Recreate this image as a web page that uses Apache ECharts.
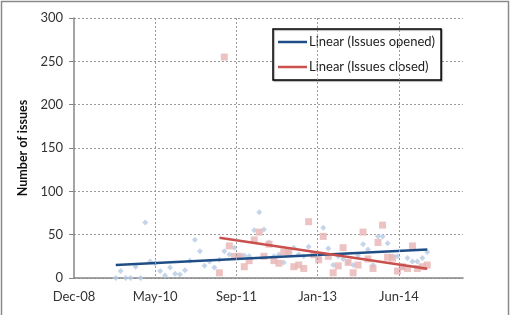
<!DOCTYPE html>
<html>
<head>
<meta charset="utf-8">
<script src="https://cdn.jsdelivr.net/npm/echarts@6/dist/echarts.min.js"></script>
<style>
  html, body { margin: 0; padding: 0; background: #fff; }
  #issues-chart-div { width: 513px; height: 315px; }
</style>
</head>
<body>
<div id="issues-chart-div"></div>
<script>
// monthly counts, first month given, one value per month
var opened_startMonth = [2009, 9];
var opened_values = [
    0, 8, 0, 0,
    13, 0, 64, 19, 17, 8, 3, 12, 5, 4, 9, 20,
    44, 31, 14, 19, 12, 21, 31, 27, 35, 26, 26, 25,
    55, 76, 56, 41, 25, 27, 18, 30, 35, 27, 25, 36,
    28, 23, 58, 34, 15, 25, 22, 18, 15, 26, 39, 33,
    15, 48, 48, 40, 25, 25, 12, 23, 19, 19, 23, 30
];
var closed_startMonth = [2011, 6];
var closed_values = [
    6, 255, 37, 25, 25, 13, 20,
    44, 53, 25, 39, 20, 17, 30, 30, 13, 15, 11, 65,
    27, 21, 48, 25, 6, 14, 35, 18, 6, 15, 53, 22,
    11, 41, 61, 24, 23, 8, 13, 11, 37, 11, 13, 15
];
// trend line end values (first month, last month)
var opened_trend = [15, 33];
var closed_trend = [46.5, 10.7];
var y_ticks = [0, 50, 100, 150, 200, 250, 300];
// x gridlines, in days from the axis start
var x_gridDays = [500, 1000, 1500, 2000];
var month_names = ['Jan', 'Feb', 'Mar', 'Apr', 'May', 'Jun', 'Jul', 'Aug', 'Sep', 'Oct', 'Nov', 'Dec'];

// x axis is days counted from the axis start (Excel style date axis, 500 day unit)
var issues_axisStart = Date.UTC(2008, 11, 18);
var DAY = 86400000;

function issues_monthDay(year, month) {
    return (Date.UTC(year, month - 1, 1) - issues_axisStart) / DAY;
}

function issues_points(start, values) {
    return values.map(function (v, i) {
        var m = start[1] - 1 + i;
        return [issues_monthDay(start[0] + Math.floor(m / 12), (m % 12) + 1), v];
    });
}

var opened_points = issues_points(opened_startMonth, opened_values);
var closed_points = issues_points(closed_startMonth, closed_values);
var opened_trendPoints = [
    [opened_points[0][0], opened_trend[0]],
    [opened_points[opened_points.length - 1][0], opened_trend[1]]
];
var closed_trendPoints = [
    [closed_points[0][0], closed_trend[0]],
    [closed_points[closed_points.length - 1][0], closed_trend[1]]
];

var issues_chartDom = document.getElementById('issues-chart-div');
var issues_myChart = echarts.init(issues_chartDom);
var issues_font = 'Lato, "Open Sans", sans-serif';
var issues_gridStyle = { color: '#9a9a9a', type: [2, 2], width: 1 };

var issues_option = {
    animation: false,
    backgroundColor: '#ffffff',
    textStyle: { fontFamily: issues_font },
    graphic: [
        {
            type: 'rect',
            shape: { x: 1.5, y: 1.5, width: 507, height: 330 },
            style: { fill: 'none', stroke: '#8a8a8a', lineWidth: 1.5 },
            silent: true
        }
    ],
    grid: {
        left: 74,
        right: 50,
        top: 18,
        bottom: 37
    },
    legend: {
        orient: 'vertical',
        left: 273,
        top: 29,
        data: [
            { name: 'Linear (Issues opened)', icon: 'rect' },
            { name: 'Linear (Issues closed)', icon: 'rect' }
        ],
        itemWidth: 29,
        itemHeight: 2.5,
        itemGap: 11,
        padding: [6, 6, 6, 5],
        borderColor: '#000',
        borderWidth: 1.5,
        backgroundColor: '#fff',
        shadowColor: 'rgba(0,0,0,0.35)',
        shadowOffsetX: 1,
        shadowOffsetY: 1,
        shadowBlur: 1,
        selectedMode: false,
        textStyle: { fontSize: 13, lineHeight: 14, color: '#222', fontFamily: issues_font, padding: [0, 0, 0, -3] }
    },
    xAxis: {
        type: 'value',
        min: 0,
        max: 2394,
        interval: 500,
        axisLine: { show: true, onZero: false, lineStyle: { color: '#868686', width: 1.5 } },
        axisTick: { show: false },
        splitLine: { show: false },
        axisLabel: {
            margin: 12,
            fontSize: 13,
            color: '#333',
            showMaxLabel: false,
            formatter: function (v) {
                var d = new Date(issues_axisStart + v * DAY);
                return month_names[d.getUTCMonth()] + '-' + String(d.getUTCFullYear()).slice(2);
            }
        }
    },
    yAxis: {
        type: 'value',
        min: y_ticks[0],
        max: y_ticks[y_ticks.length - 1],
        interval: y_ticks[1] - y_ticks[0],
        name: 'Number of issues',
        nameLocation: 'middle',
        nameRotate: 90,
        nameGap: 37,
        nameTextStyle: { fontSize: 12.5, fontWeight: 'bold', color: '#111', fontFamily: issues_font },
        axisLine: { show: true, lineStyle: { color: '#868686', width: 1.5 } },
        axisTick: { show: true, length: 5, lineStyle: { color: '#868686' } },
        splitLine: { show: true, lineStyle: issues_gridStyle },
        axisLabel: { margin: 11, fontSize: 13, color: '#333' }
    },
    series: [
        {
            name: 'Issues opened',
            type: 'scatter',
            symbol: 'diamond',
            symbolSize: 6,
            itemStyle: { color: '#b6cbe4' },
            data: opened_points,
            z: 2,
            // vertical gridlines (no line at the axis max, like the original)
            markLine: {
                silent: true,
                symbol: 'none',
                label: { show: false },
                lineStyle: issues_gridStyle,
                data: x_gridDays.map(function (d) {
                    return [{ coord: [d, y_ticks[y_ticks.length - 1]] }, { coord: [d, y_ticks[0]] }];
                })
            }
        },
        {
            name: 'Issues closed',
            type: 'scatter',
            symbol: 'rect',
            symbolSize: 7,
            itemStyle: { color: '#e7b4b3' },
            data: closed_points,
            z: 2
        },
        {
            name: 'Linear (Issues opened)',
            type: 'line',
            symbol: 'none',
            lineStyle: { color: '#1f4e87', width: 2.5 },
            itemStyle: { color: '#1f4e87' },
            data: opened_trendPoints,
            z: 3
        },
        {
            name: 'Linear (Issues closed)',
            type: 'line',
            symbol: 'none',
            lineStyle: { color: '#c9504d', width: 2.5 },
            itemStyle: { color: '#c9504d' },
            data: closed_trendPoints,
            z: 3
        }
    ]
};

if (issues_option && typeof issues_option === 'object') {
    issues_myChart.setOption(issues_option);
}
</script>
</body>
</html>
